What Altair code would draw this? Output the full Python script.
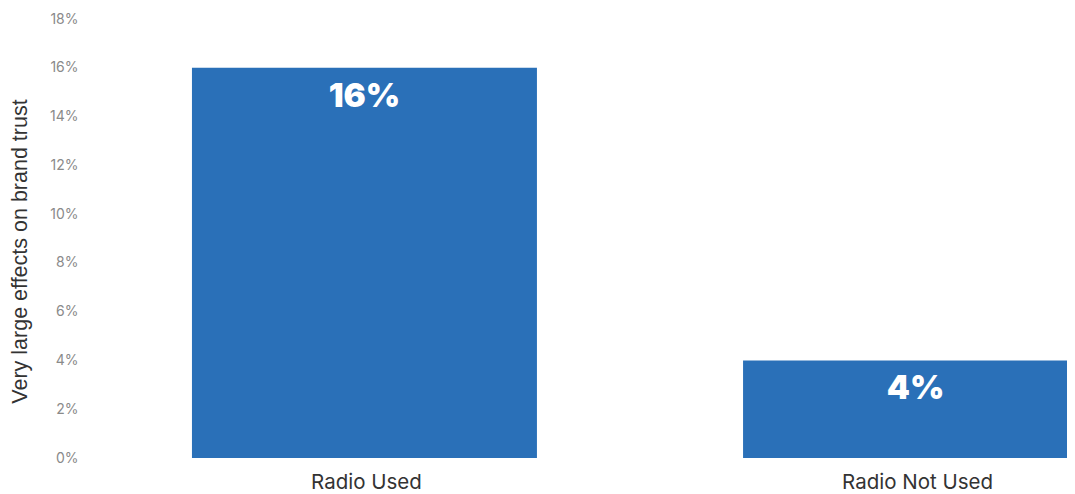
import altair as alt
import pandas as pd

categories = ["Radio Used", "Radio Not Used"]
values = [0.16, 0.04]
labels = ["16%", "4%"]

df = pd.DataFrame({"cat": categories, "val": values, "lab": labels})

FONT = "Inter"
BLUE = "#2a70b8"

x = alt.X(
    "cat:N",
    sort=categories,
    title=None,
    scale=alt.Scale(range=[0, 1100], paddingInner=0.374, paddingOuter=0.185),
    axis=alt.Axis(labelAngle=0, labelFontSize=20.5, labelColor="#333333", labelFont=FONT,
                  labelPadding=14, labelOffset=2, ticks=False, domain=False, grid=False),
)
y = alt.Y(
    "val:Q",
    scale=alt.Scale(domain=[0, 0.18]),
    axis=alt.Axis(format=".0%", values=[0, 0.02, 0.04, 0.06, 0.08, 0.10, 0.12, 0.14, 0.16, 0.18],
                  title="Very large effects on brand trust", titleFontSize=21.5,
                  titleFontWeight="normal", titleColor="#333333", titleFont="Liberation Sans",
                  titleX=-70, titleY=232, titleAngle=-90, titleAlign="center",
                  titleBaseline="middle",
                  labelFontSize=14, labelColor="#8a8a8a", labelFont=FONT, labelPadding=12,
                  ticks=False, domain=False, grid=False),
)

bars = alt.Chart(df).mark_bar(color=BLUE, clip=True).encode(x=x, y=y)
text = alt.Chart(df).mark_text(color="white", font=FONT, fontSize=33, fontWeight=900,
                               baseline="middle", dy=29).encode(x=x, y=y, text="lab:N")

chart = (bars + text).properties(
    width=977, height=439,
    background="white",
    autosize=alt.AutoSizeParams(type="none"),
    padding={"left": 82, "top": 11, "right": 0, "bottom": 36},
).configure_view(stroke=None, strokeWidth=0)

chart.save("out.html", embed_options={"renderer": "svg", "actions": False})
